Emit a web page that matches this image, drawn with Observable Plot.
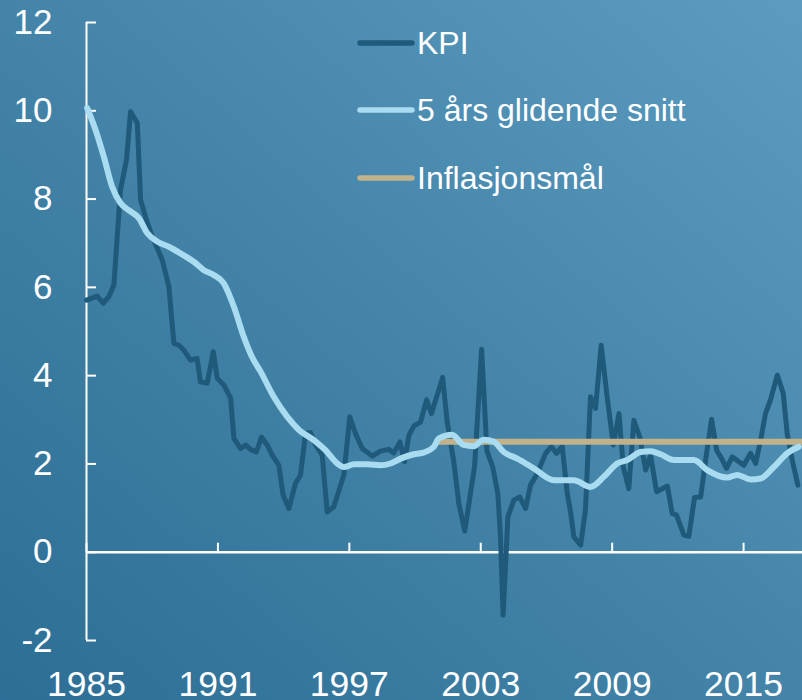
<!DOCTYPE html>
<html>
<head>
<meta charset="utf-8">
<script src="https://cdn.jsdelivr.net/npm/d3@7"></script>
<script src="https://cdn.jsdelivr.net/npm/@observablehq/plot@0.6"></script>
<style>
  html, body { margin: 0; padding: 0; background: #3f7fa3; }
  #wrap {
    position: relative; width: 802px; height: 700px; overflow: hidden;
    background: linear-gradient(to top right, #2c6e95 0%, #4484a8 50%, #5b9cc0 100%);
    font-family: "Liberation Sans", Arial, sans-serif;
  }
  #chart svg { display: block; background: transparent; }
  .leg { position: absolute; left: 357px; width: 440px; height: 32px; }
  .leg svg { position: absolute; left: 0; top: 0; }
  .leg span { position: absolute; left: 60px; top: 0; font-size: 32px; line-height: 32px; color: #fff; white-space: nowrap; }
</style>
</head>
<body>
<div id="wrap">
  <div id="chart"></div>
  <div id="legend"></div>
</div>
<script>
// ---- data ----
const kpiYears = [1985.0,1985.49,1985.76,1986.02,1986.25,1986.55,1986.83,1987.01,1987.32,1987.47,1987.69,1988.0,1988.46,1988.76,1988.99,1989.21,1989.44,1989.75,1990.05,1990.2,1990.51,1990.79,1990.97,1991.27,1991.58,1991.73,1992.03,1992.26,1992.49,1992.76,1992.99,1993.25,1993.48,1993.78,1993.98,1994.24,1994.54,1994.77,1995.0,1995.23,1995.46,1995.76,1995.99,1996.29,1996.75,1997.02,1997.28,1997.59,1998.05,1998.42,1998.8,1999.03,1999.31,1999.52,1999.72,1999.95,2000.25,2000.53,2000.75,2001.26,2001.47,2001.77,2002.0,2002.27,2002.53,2002.72,2003.04,2003.28,2003.55,2003.78,2003.9,2004.02,2004.24,2004.51,2004.78,2005.05,2005.27,2005.58,2005.96,2006.22,2006.46,2006.72,2006.95,2007.1,2007.25,2007.56,2007.78,2008.01,2008.24,2008.5,2008.77,2009.05,2009.31,2009.51,2009.76,2009.99,2010.26,2010.53,2010.75,2011.03,2011.52,2011.74,2011.94,2012.27,2012.5,2012.76,2013.04,2013.31,2013.54,2013.77,2014.0,2014.22,2014.48,2014.79,2015.01,2015.32,2015.55,2015.78,2016.0,2016.23,2016.54,2016.81,2016.99,2017.22,2017.48];
const kpiValues = [5.71,5.8,5.64,5.79,6.05,8.2,8.9,9.98,9.72,7.98,7.6,7.15,6.62,6.02,4.73,4.69,4.58,4.35,4.39,3.86,3.83,4.54,3.94,3.79,3.49,2.58,2.35,2.43,2.33,2.27,2.61,2.43,2.2,1.97,1.29,0.99,1.56,1.75,2.69,2.71,2.43,2.2,0.91,1.03,1.75,3.07,2.69,2.35,2.18,2.29,2.33,2.25,2.5,2.05,2.65,2.86,2.95,3.45,3.14,3.96,2.95,2.05,1.1,0.48,1.33,1.95,4.6,2.3,1.92,1.33,0.35,-1.43,0.8,1.18,1.25,0.99,1.52,1.78,2.24,2.39,2.24,2.4,1.33,0.91,0.35,0.16,0.95,3.52,3.26,4.69,3.52,2.43,3.14,1.93,1.44,2.99,2.61,1.86,2.2,1.37,1.5,0.88,0.84,0.39,0.36,1.24,1.25,2.24,3.01,2.31,2.12,1.9,2.16,2.05,1.97,2.24,2.01,2.54,3.14,3.45,4.01,3.6,2.69,2.09,1.52];

const avgYears = [1985.03,1985.41,1985.79,1986.17,1986.55,1987.01,1987.39,1987.77,1988.23,1988.76,1989.29,1989.9,1990.36,1990.81,1991.27,1991.73,1992.18,1992.53,1992.95,1993.55,1994.16,1994.7,1995.38,1995.91,1996.45,1996.75,1997.21,1997.81,1998.42,1998.88,1999.34,1999.95,2000.33,2000.86,2001.09,2001.69,2002.22,2002.68,2003.14,2003.6,2004.05,2004.67,2005.42,2006.34,2007.25,2008.01,2008.62,2009.23,2009.69,2010.3,2010.75,2011.21,2011.82,2012.73,2013.34,2014.25,2014.71,2015.32,2015.78,2016.38,2016.99,2017.52];
const avgValues = [10.06,9.57,8.96,8.28,7.91,7.72,7.57,7.23,7.04,6.92,6.77,6.58,6.39,6.28,6.09,5.56,4.88,4.45,4.09,3.52,3.07,2.77,2.54,2.31,2.01,1.93,1.99,1.99,1.97,2.01,2.12,2.22,2.25,2.39,2.58,2.66,2.43,2.4,2.55,2.5,2.27,2.12,1.9,1.63,1.63,1.48,1.71,2.01,2.09,2.27,2.29,2.22,2.09,2.09,1.86,1.69,1.75,1.65,1.67,1.93,2.24,2.39];

const targetYears = [2001.0, 2017.69];
const targetValues = [2.5, 2.5];

const xTicks = [1985, 1991, 1997, 2003, 2009, 2015];
const yTicks = [-2, 0, 2, 4, 6, 8, 10, 12];

const seriesNames = ["KPI", "5 års glidende snitt", "Inflasjonsmål"];
const seriesColors = ["#1f5a7b", "#a9dcf0", "#c1b28b"];

// ---- tables ----
const kpi = kpiYears.map((x, i) => ({x, y: kpiValues[i]}));
const avg = avgYears.map((x, i) => ({x, y: avgValues[i]}));
const target = targetYears.map((x, i) => ({x, y: targetValues[i]}));

const font = "Liberation Sans, Arial, sans-serif";

const chart = Plot.plot({
  width: 802,
  height: 700,
  marginLeft: 86,
  marginRight: 0,
  marginTop: 22,
  marginBottom: 60,
  style: {background: "transparent", fontFamily: font, color: "white", overflow: "visible"},
  x: {domain: [1985, 2017.69], axis: null},
  y: {domain: [-2, 12], axis: null},
  marks: [
    // y axis labels
    Plot.axisY(yTicks, {anchor: "left", label: null, tickSize: 0, tickPadding: 34, fontSize: 35, fill: "white", tickFormat: d => String(d)}),
    // y axis ticks pointing inward
    Plot.axisY(yTicks, {anchor: "left", label: null, tickSize: 10, dx: 10, stroke: "white", strokeWidth: 2, strokeOpacity: 1, tickFormat: () => ""}),
    // vertical axis line
    Plot.ruleX([xTicks[0]], {y1: -2, y2: 12, stroke: "white", strokeWidth: 2}),
    // x axis labels at bottom
    Plot.axisX(xTicks, {anchor: "bottom", label: null, tickSize: 0, tickPadding: 30, fontSize: 35.5, fill: "white", tickFormat: d => String(d)}),
    // x ticks pointing up from the zero line
    Plot.axisX(xTicks, {anchor: "top", label: null, tickSize: 10, dy: 529.7, stroke: "white", strokeWidth: 2, strokeOpacity: 1, tickFormat: () => ""}),
    // zero line
    Plot.ruleY([0], {stroke: "white", strokeWidth: 2.5}),
    Plot.line(kpi, {x: "x", y: "y", stroke: seriesColors[0], strokeWidth: 5, strokeLinejoin: "round", strokeLinecap: "round"}),
    Plot.line(target, {x: "x", y: "y", stroke: seriesColors[2], strokeWidth: 6, strokeLinecap: "round"}),
    Plot.line(avg, {x: "x", y: "y", curve: "monotone-x", stroke: seriesColors[1], strokeWidth: 6, strokeLinejoin: "round", strokeLinecap: "round"})
  ]
});
document.getElementById("chart").appendChild(chart);

// ---- legend ----
const legendTops = [27, 94, 162];
const leg = document.getElementById("legend");
seriesNames.forEach((name, i) => {
  const row = document.createElement("div");
  row.className = "leg";
  row.style.top = legendTops[i] + "px";
  row.innerHTML = `<svg width="60" height="32"><line x1="3" x2="55" y1="16" y2="16" stroke="${seriesColors[i]}" stroke-width="5.5" stroke-linecap="round"/></svg><span>${name}</span>`;
  leg.appendChild(row);
});
</script>
</body>
</html>
